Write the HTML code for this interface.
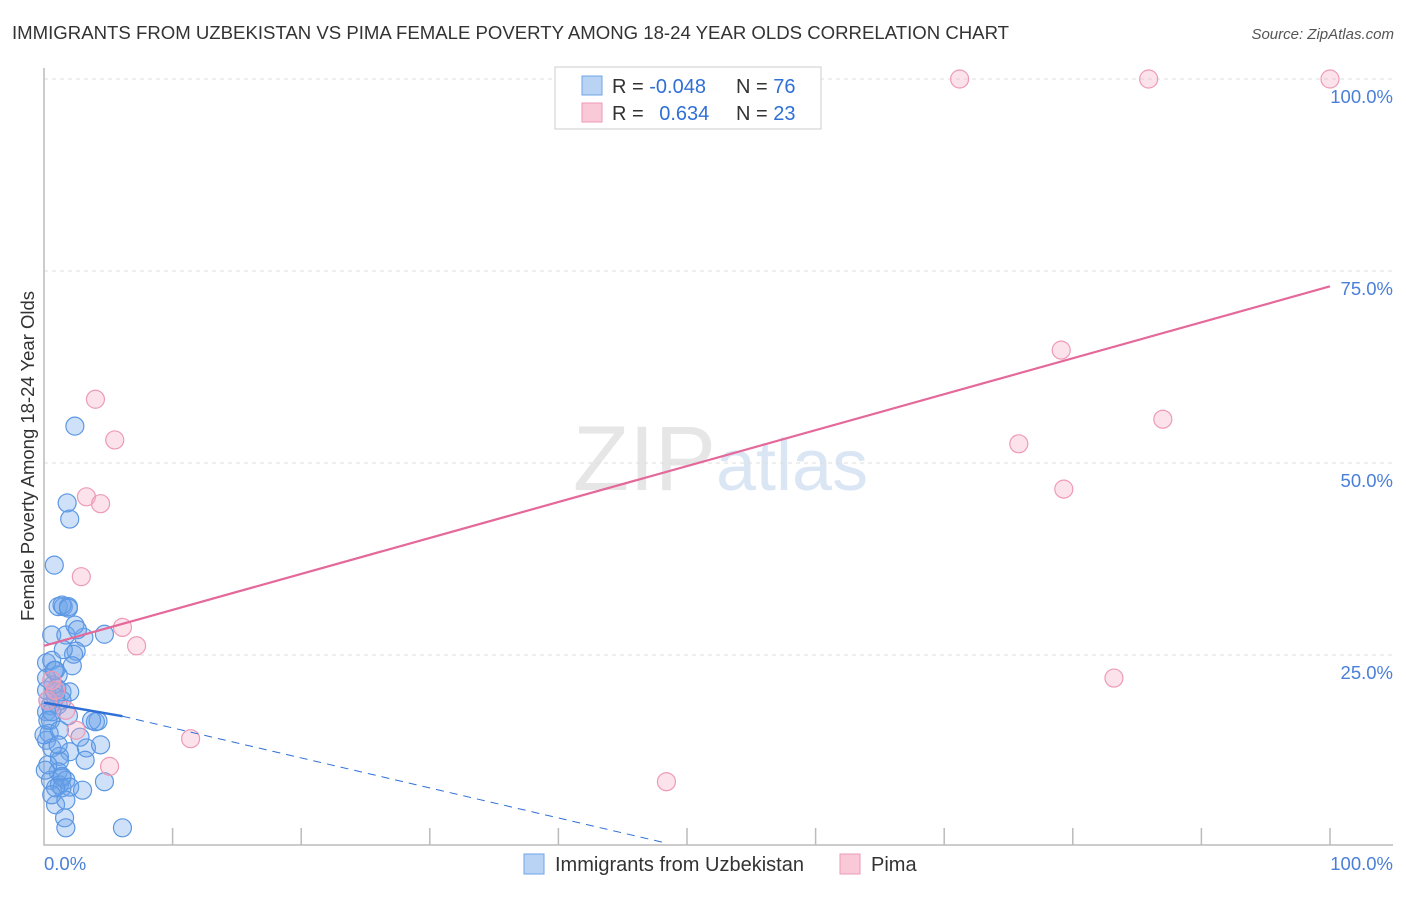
<!DOCTYPE html>
<html><head><meta charset="utf-8"><style>
body{margin:0;background:#fff;font-family:"Liberation Sans",sans-serif;}
svg text{font-family:"Liberation Sans",sans-serif;}
</style></head><body>
<svg width="1406" height="892" xmlns="http://www.w3.org/2000/svg" id="chart">
<text x="12" y="39" font-size="18.6" fill="#333">IMMIGRANTS FROM UZBEKISTAN VS PIMA FEMALE POVERTY AMONG 18-24 YEAR OLDS CORRELATION CHART</text>
<text x="1394" y="39" font-size="15" fill="#555" text-anchor="end" font-style="italic">Source: ZipAtlas.com</text>
<text x="716" y="490" font-size="92" fill="#e6e6e6" text-anchor="end" font-family="Liberation Serif">ZIP</text>
<text x="716" y="490" font-size="72" fill="#dbe6f5">atlas</text>
<g id="grid"></g>
<g id="axes"></g>
<g id="pts"></g>
<g id="trends"></g>
<text transform="translate(34,456) rotate(-90)" font-size="18.5" fill="#333" text-anchor="middle">Female Poverty Among 18-24 Year Olds</text>
<text x="44" y="870" font-size="18.5" fill="#4a7fd8">0.0%</text>
<text x="1393" y="870" font-size="18.5" fill="#4a7fd8" text-anchor="end">100.0%</text>
<g>
<rect x="555" y="67" width="266" height="62" fill="#fff" stroke="#ccc"/>
<rect x="582" y="76" width="20" height="19" fill="#b9d3f5" stroke="#6fa4e6"/>
<rect x="582" y="103" width="20" height="19" fill="#f9c9d8" stroke="#ee9ab6"/>
<text x="612" y="93" font-size="20" fill="#333">R = <tspan fill="#2f6fd6">-0.048</tspan></text>
<text x="736" y="93" font-size="20" fill="#333">N = <tspan fill="#2f6fd6">76</tspan></text>
<text x="612" y="120" font-size="20" fill="#333">R = <tspan fill="#2f6fd6" dx="10">0.634</tspan></text>
<text x="736" y="120" font-size="20" fill="#333">N = <tspan fill="#2f6fd6">23</tspan></text>
</g>
<g>
<rect x="524" y="854" width="20" height="20" fill="#b9d3f5" stroke="#6fa4e6"/>
<text x="555" y="871" font-size="20" fill="#333">Immigrants from Uzbekistan</text>
<rect x="840" y="854" width="20" height="20" fill="#f9c9d8" stroke="#ee9ab6"/>
<text x="871" y="871" font-size="20" fill="#333">Pima</text>
</g>
</svg>
<script>
const blueX=[2.4,1.8,2.0,0.8,1.1,1.5,1.9,1.4,1.9,0.6,1.7,3.1,4.7,2.4,2.5,2.3,2.2,0.2,0.6,0.9,1.1,0.2,1.0,1.4,2.0,0.3,1.1,0.5,0.2,1.9,4.0,4.2,0.5,0.4,0.2,2.8,3.3,2.0,0.6,1.2,1.2,1.1,0.5,1.4,1.2,1.7,1.4,1.4,2.0,3.0,4.7,0.9,0.3,0.9,1.6,1.7,6.1,0.0,0.1,0.8,0.3,1.4,0.6,0.2,0.7,0.9,1.5,2.6,3.7,1.2,0.6,3.2,4.4,1.1,1.7,0.8];
const blueY=[54.8,44.8,42.7,36.7,31.3,31.3,31.3,31.5,31.1,27.6,27.6,27.3,27.7,28.9,25.5,25.1,23.6,24.0,24.3,23.0,22.4,22.0,20.7,20.2,20.2,19.1,18.5,18.4,17.6,17.1,16.3,16.4,16.5,14.8,13.9,14.3,12.9,12.4,12.9,11.8,11.2,9.8,8.7,9.0,8.1,8.7,9.2,7.7,7.8,7.4,8.5,7.7,10.7,5.5,3.8,2.5,2.5,14.6,10.0,20.2,16.5,19.1,17.6,20.4,21.1,19.5,25.7,28.3,16.5,15.2,6.8,11.3,13.3,13.3,6.1,23.0];
const pinkX=[71.2,85.9,100,79.1,87.0,75.8,79.3,83.2,48.4,4.0,5.5,3.3,4.4,2.9,6.1,7.2,11.4,5.1,0.6,0.9,0.3,1.7,2.5];
const pinkY=[100,100,100,64.7,55.7,52.5,46.6,22.0,8.5,58.3,53.0,45.6,44.7,35.2,28.6,26.2,14.1,10.5,21.7,20.4,19.1,17.8,15.2];
const yTicks=[25,50,75,100];
const yTickLabels=["25.0%","50.0%","75.0%","100.0%"];
const pinkTrend=[26.2,73.0];
const blueTrend=[18.8,-0.1]; // intercept, slope
const blueSolidEnd=6.1, blueDashEnd=48.4;
const NS="http://www.w3.org/2000/svg";
const sx=v=>44+v*12.86, sy=v=>847-v*7.68;
function mk(t,a,p){const e=document.createElementNS(NS,t);for(const k in a)e.setAttribute(k,a[k]);p.appendChild(e);return e;}
const grid=document.getElementById('grid'),axes=document.getElementById('axes'),pts=document.getElementById('pts'),tr=document.getElementById('trends');
yTicks.forEach((t,i)=>{
 const l=mk('line',{x1:44,x2:1393,y1:sy(t),y2:sy(t),stroke:'#ddd','stroke-dasharray':'4,4'},grid);
 
 
 const tx=mk('text',{x:1393,y:sy(t)+24,'font-size':18.5,fill:'#4a7fd8','text-anchor':'end'},grid);
 tx.textContent=yTickLabels[i];
 
 
});
const ax=mk('path',{d:'M44 68V845H1393',fill:'none',stroke:'#bbb','stroke-width':1.5},axes);


for(let i=1;i<=10;i++){const t=mk('line',{x1:sx(i*10),x2:sx(i*10),y1:828,y2:845,stroke:'#bbb','stroke-width':1.5},axes);
 
 }
blueX.forEach((x,i)=>{const c=mk('circle',{cx:sx(x),cy:sy(blueY[i]),r:9,fill:'rgba(110,165,235,0.33)',stroke:'#5b97e3','stroke-width':1.2},pts);
 
 });
pinkX.forEach((x,i)=>{const c=mk('circle',{cx:sx(x),cy:sy(pinkY[i]),r:9,fill:'rgba(245,170,195,0.33)',stroke:'#ee9ab6','stroke-width':1.2},pts);
 
 });
const bf=x=>blueTrend[0]+blueTrend[1]*x*2.9;
let l1=mk('line',{x1:sx(0),y1:sy(bf(0)),x2:sx(blueSolidEnd),y2:sy(bf(blueSolidEnd)),stroke:'#2f6fd6','stroke-width':2.5},tr);


let l2=mk('line',{x1:sx(blueSolidEnd),y1:sy(bf(blueSolidEnd)),x2:sx(blueDashEnd),y2:sy(0.5),stroke:'#2f6fd6','stroke-width':1,'stroke-dasharray':'8,6'},tr);


let l3=mk('line',{x1:sx(0),y1:sy(pinkTrend[0]),x2:sx(100),y2:sy(pinkTrend[1]),stroke:'#e4699a','stroke-width':2.2},tr);


</script>
</body></html>
